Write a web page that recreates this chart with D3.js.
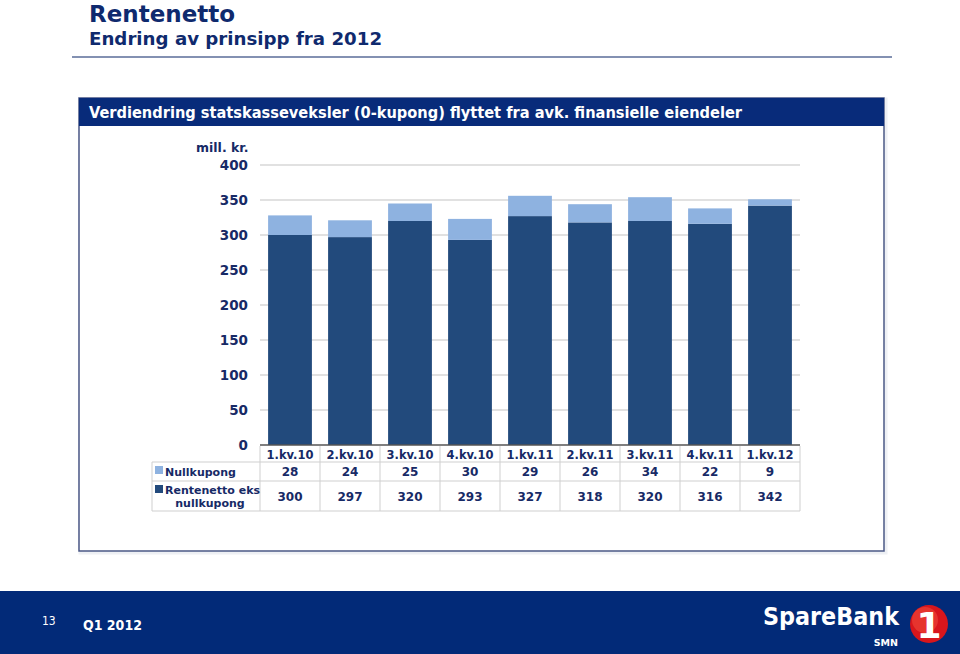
<!DOCTYPE html>
<html><head><meta charset="utf-8">
<script src="https://cdn.jsdelivr.net/npm/d3@7"></script>
<style>body{margin:0;background:#fff}svg{display:block}</style>
</head><body><svg id="c" width="960" height="654"></svg>
<script>
const categories = ["1.kv.10","2.kv.10","3.kv.10","4.kv.10","1.kv.11","2.kv.11","3.kv.11","4.kv.11","1.kv.12"];
const rentenettoEks = [300,297,320,293,327,318,320,316,342];
const nullkupong = [28,24,25,30,29,26,34,22,9];
const yTicks = [0,50,100,150,200,250,300,350,400];
const seriesNames = ["Nullkupong","Rentenetto eks nullkupong"];
const colDark = "#224a7c", colLight = "#8eb2e0", navy = "#172a66";

const svg = d3.select("#c");
const F = "'DejaVu Sans', Verdana, sans-serif";

// Title
svg.append("text").attr("x",89).attr("y",22).attr("font-family",F).attr("font-weight","bold")
  .attr("font-size",23).attr("fill","#0f2a6e").text("Rentenetto");
svg.append("text").attr("x",89).attr("y",45).attr("font-family",F).attr("font-weight","bold")
  .attr("font-size",18.2).attr("fill","#0f2a6e").text("Endring av prinsipp fra 2012");
svg.append("line").attr("x1",72).attr("x2",892).attr("y1",57).attr("y2",57).attr("stroke","#5a6c98").attr("stroke-width",1.5);

// Frame
svg.append("rect").attr("x",80).attr("y",99).attr("width",806).attr("height",454)
  .attr("fill","none").attr("stroke","#eef0f4").attr("stroke-width",3);
svg.append("rect").attr("x",79).attr("y",98).attr("width",805).attr("height",453)
  .attr("fill","#fff").attr("stroke","#4a5785").attr("stroke-width",1.5);
svg.append("rect").attr("x",79).attr("y",98).attr("width",805).attr("height",28).attr("fill","#082b7a");
svg.append("text").attr("x",89).attr("y",118).attr("font-family","'DejaVu Sans Condensed','DejaVu Sans',sans-serif")
  .attr("font-weight","bold").attr("font-size",15).attr("fill","#fff")
  .attr("textLength",653).attr("lengthAdjust","spacingAndGlyphs")
  .text("Verdiendring statskasseveksler (0-kupong) flyttet fra avk. finansielle eiendeler");

svg.append("text").attr("x",196).attr("y",152).attr("font-family",F).attr("font-weight","bold")
  .attr("font-size",12.5).attr("fill",navy).text("mill. kr.");

// Scales
const x = d3.scaleBand().domain(categories).range([260,800]).paddingInner(0.27).paddingOuter(0.135);
const y = d3.scaleLinear().domain([0,400]).range([445,165]);

// gridlines
svg.append("g").selectAll("line").data(yTicks.filter(d=>d>0)).join("line")
  .attr("x1",260).attr("x2",800).attr("y1",d=>y(d)).attr("y2",d=>y(d))
  .attr("stroke","#c4c4c4").attr("stroke-width",1.2);

// y axis labels
const yAxis = svg.append("g").attr("transform","translate(260,0)")
  .call(d3.axisLeft(y).tickValues(yTicks).tickSize(0).tickPadding(12));
yAxis.select(".domain").remove();
yAxis.selectAll("text").attr("font-family",F).attr("font-weight","bold").attr("font-size",13.5).attr("fill",navy);

// bars
const stack = categories.map((c,i)=>({c, a:rentenettoEks[i], b:nullkupong[i]}));
svg.append("g").selectAll("rect").data(stack).join("rect")
  .attr("x",d=>x(d.c)).attr("width",x.bandwidth())
  .attr("y",d=>y(d.a)).attr("height",d=>y(0)-y(d.a)).attr("fill",colDark);
svg.append("g").selectAll("rect").data(stack).join("rect")
  .attr("x",d=>x(d.c)).attr("width",x.bandwidth())
  .attr("y",d=>y(d.a+d.b)).attr("height",d=>y(d.a)-y(d.a+d.b)).attr("fill",colLight);

// data table
const step = x.step();
const x0 = 260, rowTop = 446, r1 = 462, r2 = 481, rowBot = 511, leftX = 152;
const tg = svg.append("g").attr("stroke","#cfcfcf").attr("stroke-width",1);
tg.append("line").attr("x1",leftX).attr("x2",800).attr("y1",r1).attr("y2",r1);
tg.append("line").attr("x1",leftX).attr("x2",800).attr("y1",r2).attr("y2",r2);
tg.append("line").attr("x1",leftX).attr("x2",800).attr("y1",rowBot).attr("y2",rowBot);
tg.selectAll("line.v").data(d3.range(categories.length+1)).join("line").attr("class","v")
  .attr("x1",i=>x0+i*step).attr("x2",i=>x0+i*step).attr("y1",rowTop).attr("y2",rowBot);
tg.append("line").attr("x1",leftX).attr("x2",leftX).attr("y1",r1).attr("y2",rowBot);
svg.append("line").attr("x1",260).attr("x2",800).attr("y1",445).attr("y2",445).attr("stroke","#555").attr("stroke-width",1.5);

const cellText = (cx, cy, t, size) => svg.append("text").attr("x",cx).attr("y",cy).attr("text-anchor","middle")
  .attr("font-family",F).attr("font-weight","bold").attr("font-size",size).attr("fill",navy).text(t);
categories.forEach((c,i)=>{
  const cx = x(c)+x.bandwidth()/2;
  cellText(cx, 459, c, 11.5);
  cellText(cx, 476, nullkupong[i], 12);
  cellText(cx, 501, rentenettoEks[i], 12);
});
// legend cells
svg.append("rect").attr("x",155).attr("y",466).attr("width",8).attr("height",8).attr("fill",colLight);
svg.append("rect").attr("x",155).attr("y",485).attr("width",8).attr("height",8).attr("fill",colDark);
svg.append("text").attr("x",165).attr("y",476).attr("font-family",F).attr("font-weight","bold")
  .attr("font-size",11).attr("fill",navy).text(seriesNames[0]);
svg.append("text").attr("x",165).attr("y",494).attr("font-family",F).attr("font-weight","bold")
  .attr("font-size",11).attr("fill",navy).text("Rentenetto eks");
svg.append("text").attr("x",210).attr("y",507).attr("text-anchor","middle").attr("font-family",F).attr("font-weight","bold")
  .attr("font-size",11).attr("fill",navy).text("nullkupong");

// footer
svg.append("rect").attr("x",0).attr("y",591).attr("width",960).attr("height",63).attr("fill","#022a78");
svg.append("text").attr("x",42).attr("y",625).attr("font-family","'DejaVu Sans Condensed',sans-serif")
  .attr("font-size",12).attr("fill","#fff").text("13");
svg.append("text").attr("x",83).attr("y",630).attr("font-family","'DejaVu Sans Condensed',sans-serif")
  .attr("font-weight","bold").attr("font-size",14).attr("fill","#fff").text("Q1 2012");
svg.append("text").attr("x",763).attr("y",625).attr("font-family","'DejaVu Sans Condensed',sans-serif")
  .attr("font-weight","bold").attr("font-size",25).attr("fill","#fff")
  .attr("textLength",136).attr("lengthAdjust","spacingAndGlyphs").text("SpareBank");
svg.append("text").attr("x",898).attr("y",646).attr("text-anchor","end").attr("font-family","'DejaVu Sans',sans-serif")
  .attr("font-weight","bold").attr("font-size",9.5).attr("fill","#fff").text("SMN");
svg.append("circle").attr("cx",929).attr("cy",624).attr("r",19).attr("fill","#d8161c");
svg.append("circle").attr("cx",925).attr("cy",620).attr("r",13).attr("fill","#f0493a").attr("opacity",0.6);
svg.append("text").attr("x",929).attr("y",638).attr("text-anchor","middle").attr("font-family","'DejaVu Sans',sans-serif")
  .attr("font-weight","bold").attr("font-size",36).attr("fill","#fff").text("1");
</script></body></html>
